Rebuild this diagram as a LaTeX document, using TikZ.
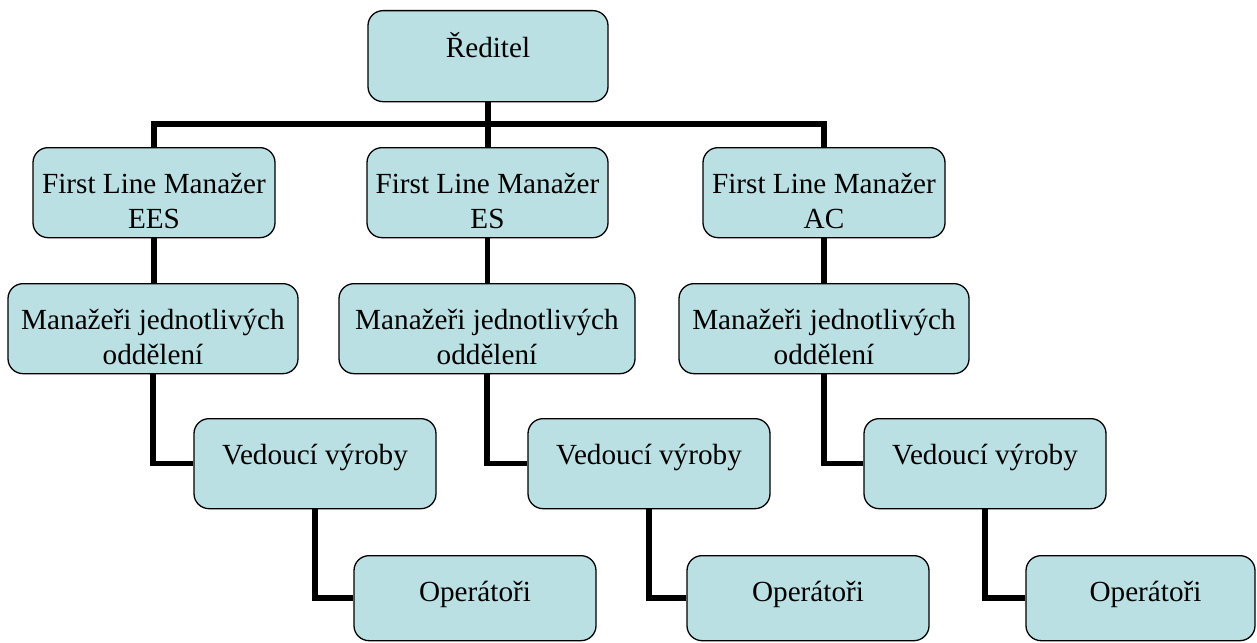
\documentclass[tikz,border=0pt]{standalone}
\usepackage{fontspec}
\setmainfont{Liberation Serif}
\definecolor{boxfill}{HTML}{BBE0E3}
\tikzset{
  box/.style={draw=black, line width=1.3pt, fill=boxfill, rounded corners=15pt,
    inner xsep=0pt, inner ysep=0pt, align=flush center, anchor=north,
    text height=46pt, text depth=44pt,
    font=\fontsize{29.2}{35}\selectfont},
  opbox/.style={text depth=39pt},
  topbox/.style={text height=47pt, text depth=44pt},
  conn/.style={draw=black, line width=5.5pt, line join=miter}
}
\begin{document}
\begin{tikzpicture}[x=1pt, y=-1pt]
\useasboundingbox (0,0) rectangle (1257,642);
% level 0
\node[box, topbox, text width=240pt] (dir) at (488,10) {Ředitel};
% level 1
\node[box, text width=242pt] (fa) at (154,147) {First Line Manažer\\EES};
\node[box, text width=241pt] (fb) at (487.5,147) {First Line Manažer\\ES};
\node[box, text width=242pt] (fc) at (824,147) {First Line Manažer\\AC};
% level 2
\node[box, text width=290pt] (ma) at (153,283) {Manažeři jednotlivých\\oddělení};
\node[box, text width=296pt] (mb) at (487,283) {Manažeři jednotlivých\\oddělení};
\node[box, text width=290pt] (mc) at (824,283) {Manažeři jednotlivých\\oddělení};
% level 3
\node[box, text width=242pt] (va) at (315,418) {Vedoucí výroby};
\node[box, text width=242pt] (vb) at (649,418) {Vedoucí výroby};
\node[box, text width=242pt] (vc) at (985,418) {Vedoucí výroby};
% level 4
\node[box, opbox, text width=242pt] (oa) at (475,555) {Operátoři};
\node[box, opbox, text width=242pt] (ob) at (808,555) {Operátoři};
\node[box, opbox, text width=229pt] (oc) at (1140.5,555) {\hspace*{10pt}Operátoři};
% connectors
\coordinate (bus) at (0,124);
\draw[conn] (dir.south) -- (dir.south |- fb.north);
\draw[conn] (fa.north) -- (fa.north |- bus) -| (fc.north);
\draw[conn] (fa.south) -- (fa.south |- ma.north);
\draw[conn] (fb.south) -- (fb.south |- mb.north);
\draw[conn] (fc.south) -- (fc.south |- mc.north);
\draw[conn] (ma.south) |- (va.west);
\draw[conn] (mb.south) |- (vb.west);
\draw[conn] (mc.south) |- (vc.west);
\draw[conn] (va.south) |- (oa.west);
\draw[conn] (vb.south) |- (ob.west);
\draw[conn] (vc.south) |- (oc.west);
\end{tikzpicture}
\end{document}
